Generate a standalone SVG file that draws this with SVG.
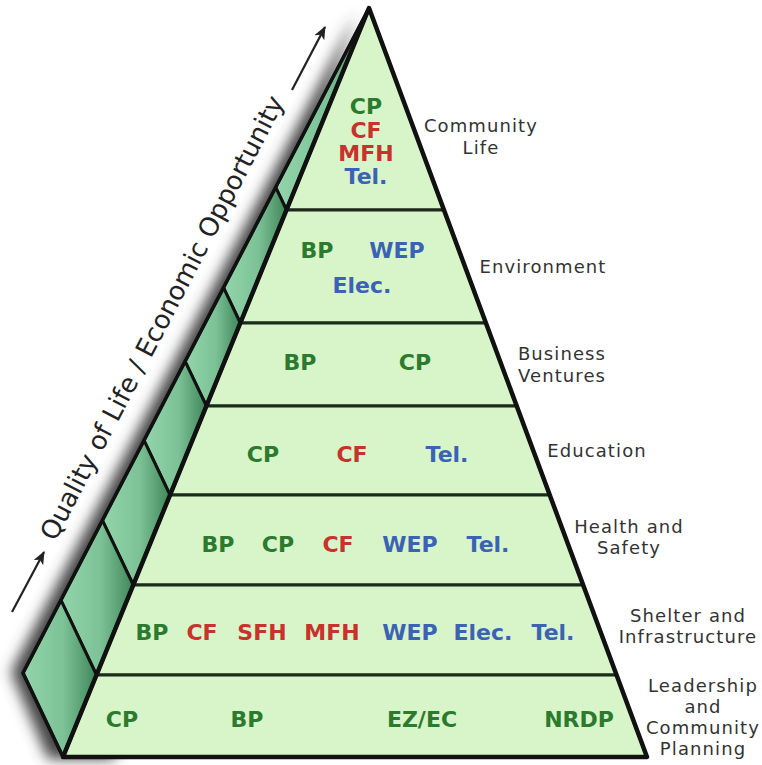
<svg xmlns="http://www.w3.org/2000/svg" width="762" height="765" viewBox="0 0 762 765">
<style>
.band{fill:#d7f5c9;stroke:#1b2a1b;stroke-width:3;stroke-linejoin:round}
.seg{fill:url(#stripGrad);stroke:#111;stroke-width:3;stroke-linejoin:round}
.c{font-family:"DejaVu Sans","Verdana",sans-serif;font-weight:bold;font-size:22px;text-anchor:middle}
.g{fill:#2c7a2e}.r{fill:#c8322c}.b{fill:#3b63b4}
.lbl{font-family:"DejaVu Sans","Verdana",sans-serif;font-size:18px;letter-spacing:1.1px;fill:#333;text-anchor:middle}
.axis{font-family:"DejaVu Sans","Verdana",sans-serif;font-size:26px;fill:#222;text-anchor:middle}
.arr{stroke:#222;stroke-width:2.2;fill:none;marker-end:url(#ah)}
</style>
<defs>
<linearGradient id="stripGrad" x1="0" y1="0" x2="1" y2="0">
<stop offset="0" stop-color="#94d5ab"/>
<stop offset="0.55" stop-color="#7cc296"/>
<stop offset="1" stop-color="#3f8659"/>
</linearGradient>
<filter id="blur" x="-30%" y="-10%" width="160%" height="120%"><feGaussianBlur stdDeviation="7"/></filter>
<marker id="ah" viewBox="0 0 12 10" refX="11" refY="5" markerWidth="6" markerHeight="5" orient="auto" markerUnits="strokeWidth">
<path d="M0,0 L12,5 L0,10 L3,5 Z" fill="#222"/>
</marker>
</defs>
<rect width="762" height="765" fill="#fff"/>

<g id="shadow">
<polygon points="362,12 17,670 54,757 120,757" fill="#444" filter="url(#blur)" transform="translate(-6,2)"/>
</g>

<g id="side-strip">
<polygon class="seg" points="369,8 275.7,187.4 286.5,210"/>
<polygon class="seg" points="275.7,187.4 223.5,287.7 240.3,323 286.5,210"/>
<polygon class="seg" points="223.5,287.7 185.1,361.4 206.4,406 240.3,323"/>
<polygon class="seg" points="185.1,361.4 144,440.4 170,495 206.4,406"/>
<polygon class="seg" points="144,440.4 102.4,520.3 133.3,585 170,495"/>
<polygon class="seg" points="102.4,520.3 60.9,600.2 96.5,675 133.3,585"/>
<polygon class="seg" points="60.9,600.2 23,673 63,757 96.5,675"/>
</g>

<g id="band-community-life">
<polygon class="band" points="369,8 444,210 286.5,210"/>
<text class="c g" x="366" y="114">CP</text>
<text class="c r" x="366" y="138">CF</text>
<text class="c r" x="366" y="161">MFH</text>
<text class="c b" x="366" y="184">Tel.</text>
<text class="lbl" x="481" y="132">Community</text>
<text class="lbl" x="481" y="154">Life</text>
</g>

<g id="band-environment">
<polygon class="band" points="286.5,210 444,210 485.9,323 240.3,323"/>
<text class="c g" x="317" y="258">BP</text>
<text class="c b" x="397" y="258">WEP</text>
<text class="c b" x="362" y="293">Elec.</text>
<text class="lbl" x="543" y="273">Environment</text>
</g>

<g id="band-business-ventures">
<polygon class="band" points="240.3,323 485.9,323 516.7,406 206.4,406"/>
<text class="c g" x="300" y="370">BP</text>
<text class="c g" x="415" y="370">CP</text>
<text class="lbl" x="562" y="360">Business</text>
<text class="lbl" x="562" y="382">Ventures</text>
</g>

<g id="band-education">
<polygon class="band" points="206.4,406 516.7,406 549.7,495 170,495"/>
<text class="c g" x="263" y="462">CP</text>
<text class="c r" x="352" y="462">CF</text>
<text class="c b" x="447" y="462">Tel.</text>
<text class="lbl" x="597" y="457">Education</text>
</g>

<g id="band-health-safety">
<polygon class="band" points="170,495 549.7,495 583.1,585 133.3,585"/>
<text class="c g" x="218" y="552">BP</text>
<text class="c g" x="278" y="552">CP</text>
<text class="c r" x="338" y="552">CF</text>
<text class="c b" x="410" y="552">WEP</text>
<text class="c b" x="488" y="552">Tel.</text>
<text class="lbl" x="629" y="533">Health and</text>
<text class="lbl" x="629" y="554">Safety</text>
</g>

<g id="band-shelter-infrastructure">
<polygon class="band" points="133.3,585 583.1,585 616.5,675 96.5,675"/>
<text class="c g" x="152" y="640">BP</text>
<text class="c r" x="202" y="640">CF</text>
<text class="c r" x="262" y="640">SFH</text>
<text class="c r" x="332" y="640">MFH</text>
<text class="c b" x="410" y="640">WEP</text>
<text class="c b" x="483" y="640">Elec.</text>
<text class="c b" x="553" y="640">Tel.</text>
<text class="lbl" x="688" y="622">Shelter and</text>
<text class="lbl" x="688" y="643">Infrastructure</text>
</g>

<g id="band-leadership-planning">
<polygon class="band" points="96.5,675 616.5,675 647,757 63,757"/>
<text class="c g" x="122" y="727">CP</text>
<text class="c g" x="247" y="727">BP</text>
<text class="c g" x="422" y="727">EZ/EC</text>
<text class="c g" x="579" y="727">NRDP</text>
<text class="lbl" x="703" y="692">Leadership</text>
<text class="lbl" x="703" y="713">and</text>
<text class="lbl" x="703" y="734">Community</text>
<text class="lbl" x="703" y="755">Planning</text>
</g>

<g id="pyramid-outline">
<polygon points="369,8 647,757 63,757" fill="none" stroke="#111" stroke-width="4.5" stroke-linejoin="round"/>
<polygon points="369,8 23,673 63,757" fill="none" stroke="#111" stroke-width="3.5" stroke-linejoin="round"/>
</g>

<g id="axis-label">
<text class="axis" x="170" y="322" transform="rotate(-62.5 170 322)">Quality of Life / Economic Opportunity</text>
</g>

<g id="connectors">
<line class="arr" x1="12" y1="612" x2="44" y2="552"/>
<line class="arr" x1="292" y1="90" x2="325" y2="27"/>
</g>
</svg>
